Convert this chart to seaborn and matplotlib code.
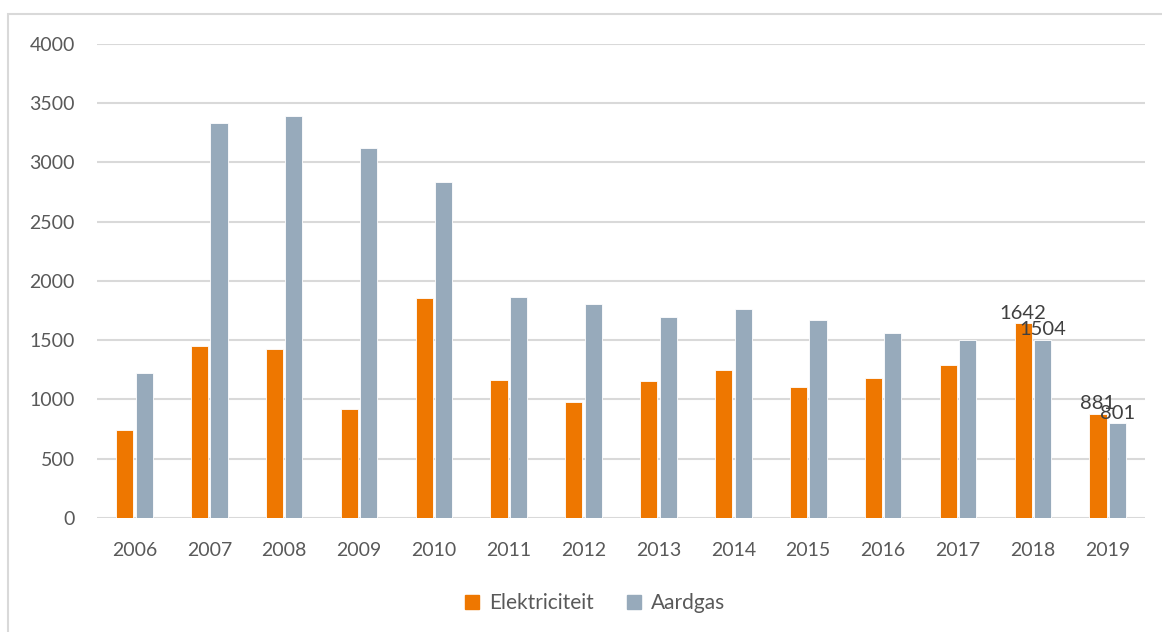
import pandas as pd
import matplotlib
matplotlib.use("Agg")
import matplotlib.pyplot as plt
import matplotlib.patches as mpatches
import seaborn as sns

# Values
years = ["2006", "2007", "2008", "2009", "2010", "2011", "2012",
         "2013", "2014", "2015", "2016", "2017", "2018", "2019"]
elektriciteit = [745, 1450, 1430, 922, 1855, 1165, 982,
                 1152, 1245, 1108, 1185, 1295, 1642, 881]
aardgas = [1222, 3330, 3390, 3122, 2835, 1865, 1810,
           1692, 1765, 1668, 1565, 1504, 1504, 801]
series_names = ["Elektriciteit", "Aardgas"]
yticks = [0, 500, 1000, 1500, 2000, 2500, 3000, 3500, 4000]

df = pd.DataFrame({
    "Jaar": years * 2,
    "Waarde": elektriciteit + aardgas,
    "Reeks": [series_names[0]] * len(years) + [series_names[1]] * len(years),
})

sns.set_style("white")
plt.rcParams["font.family"] = ["Lato", "DejaVu Sans"]
text_color = "#595959"
colors = ["#EE7700", "#97AABB"]

fig = plt.figure(figsize=(11.62, 6.32), dpi=100)
ax = fig.add_axes([0.0835, 0.1804, 0.902, 0.75])

sns.barplot(data=df, x="Jaar", y="Waarde", hue="Reeks", palette=colors,
            width=0.52, gap=0.12, edgecolor="white", linewidth=0.6,
            saturation=1, ax=ax, zorder=3)

ax.set_ylim(0, 4000)
ax.set_yticks(yticks)
ax.set_xlim(-0.5, len(years) - 0.5)
ax.yaxis.grid(True, color="#D9D9D9", linewidth=1.5, zorder=0)
ax.set_axisbelow(True)
for s in ax.spines.values():
    s.set_visible(False)
ax.tick_params(axis="both", length=0, labelsize=14, labelcolor=text_color)
ax.tick_params(axis="x", pad=17)
ax.tick_params(axis="y", pad=16)
ax.set_xlabel("")
ax.set_ylabel("")

# data labels only on the last two years
n = len(years)
for cont, vals in zip(ax.containers, [elektriciteit, aardgas]):
    labels = [""] * (n - 2) + [str(v) for v in vals[-2:]]
    ax.bar_label(cont, labels=labels, padding=1, fontsize=14.5, color="#404040")

handles = [mpatches.Patch(color=c, label=l) for c, l in zip(colors, series_names)]
ax.legend(handles=handles, loc="center", bbox_to_anchor=(0.475, -0.18),
          ncol=2, frameon=False, fontsize=15, handlelength=0.7,
          handleheight=0.7, columnspacing=1.6, handletextpad=0.45,
          labelcolor=text_color)

# light frame around the chart
fig.patches.append(mpatches.Rectangle((8 / 1162, -0.01), 1.0, 1 - 14 / 632 + 0.01,
                                      transform=fig.transFigure, fill=False,
                                      edgecolor="#D9D9D9", linewidth=1.5))

fig.savefig("out.png", dpi=100)
